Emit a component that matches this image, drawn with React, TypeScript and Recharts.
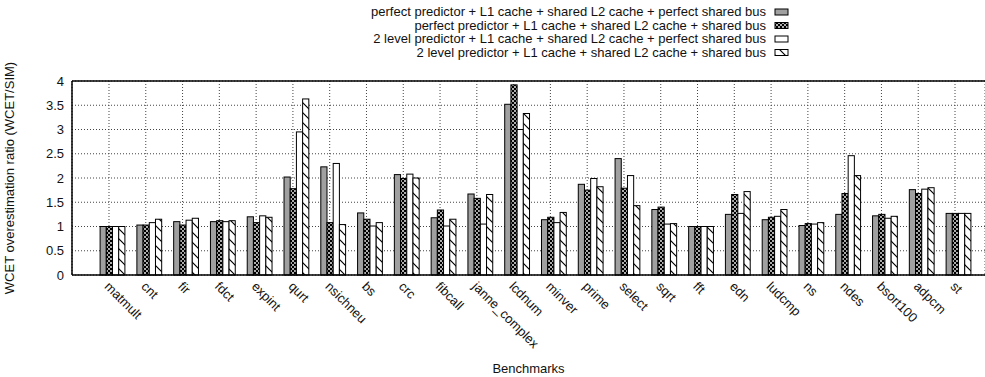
import { BarChart, Bar, XAxis, YAxis, CartesianGrid } from 'recharts'

const benchmarks = [
  'matmult', 'cnt', 'fir', 'fdct', 'expint', 'qurt', 'nsichneu', 'bs', 'crc', 'fibcall',
  'janne_complex', 'lcdnum', 'minver', 'prime', 'select', 'sqrt', 'fft', 'edn', 'ludcmp',
  'ns', 'ndes', 'bsort100', 'adpcm', 'st',
]

const perfectPredPerfectBus = [
  1.0, 1.03, 1.1, 1.1, 1.2, 2.02, 2.23, 1.28, 2.07, 1.18, 1.67, 3.52,
  1.14, 1.87, 2.4, 1.35, 1.0, 1.25, 1.14, 1.02, 1.25, 1.22, 1.76, 1.27,
]
const perfectPredSharedBus = [
  1.0, 1.03, 1.03, 1.12, 1.08, 1.78, 1.08, 1.15, 1.99, 1.34, 1.58, 3.92,
  1.19, 1.75, 1.79, 1.4, 1.0, 1.66, 1.19, 1.06, 1.68, 1.25, 1.68, 1.27,
]
const twoLevelPerfectBus = [
  1.0, 1.08, 1.13, 1.1, 1.22, 2.95, 2.3, 1.01, 2.08, 1.01, 1.05, 3.0,
  1.08, 1.99, 2.05, 1.05, 1.0, 1.27, 1.21, 1.05, 2.46, 1.17, 1.77, 1.27,
]
const twoLevelSharedBus = [
  1.0, 1.15, 1.17, 1.12, 1.19, 3.63, 1.04, 1.08, 2.0, 1.15, 1.66, 3.33,
  1.29, 1.82, 1.43, 1.06, 1.0, 1.72, 1.35, 1.08, 2.05, 1.21, 1.8, 1.27,
]

const seriesNames = [
  'perfect predictor + L1 cache + shared L2 cache + perfect shared bus',
  'perfect predictor + L1 cache + shared L2 cache + shared bus',
  '2 level predictor + L1 cache + shared L2 cache + perfect shared bus',
  '2 level predictor + L1 cache + shared L2 cache + shared bus',
]
const seriesFills = ['#a0a0a0', 'url(#checker)', '#ffffff', 'url(#hatch)']
const seriesKeys = ['s1', 's2', 's3', 's4']

const yTicks = [0, 0.5, 1, 1.5, 2, 2.5, 3, 3.5, 4]

const data = benchmarks.map((name, i) => ({
  name,
  s1: perfectPredPerfectBus[i],
  s2: perfectPredSharedBus[i],
  s3: twoLevelPerfectBus[i],
  s4: twoLevelSharedBus[i],
}))

const FONT = '"Liberation Sans", Arial, Helvetica, sans-serif'
const FS = 13
const BAR_SHIFT = 3.5

const XTick = ({ x, y, payload }: any) => (
  <g transform={`translate(${x - 2},${y + 1})`}>
    <text transform="rotate(45)" textAnchor="start" dy="0.35em" fontSize={FS} fontFamily={FONT} fill="#111">
      {payload.value}
    </text>
  </g>
)

const shiftedBar = (fill: string) => (p: any) => (
  <rect
    x={p.x + BAR_SHIFT}
    y={p.y}
    width={p.width}
    height={p.height}
    fill={fill}
    stroke="#000"
    strokeWidth={1}
  />
)

function Legend() {
  const textRight = 766
  const rows = [16, 29.5, 43, 56.5]
  return (
    <svg width={985} height={70} style={{ position: 'absolute', left: 0, top: 0, pointerEvents: 'none' }}>
      <defs>
        <pattern id="checker" patternUnits="userSpaceOnUse" width={4} height={4}>
          <rect width={4} height={4} fill="#000" />
          <circle cx={1} cy={1} r={0.9} fill="#fff" />
          <circle cx={3} cy={3} r={0.9} fill="#fff" />
        </pattern>
        <pattern id="hatch" patternUnits="userSpaceOnUse" width={10} height={10}>
          <rect width={10} height={10} fill="#fff" />
          <path d="M0,0 L10,10 M-1,9 L1,11 M9,-1 L11,1" stroke="#000" strokeWidth={1.2} />
        </pattern>
      </defs>
      {seriesNames.map((n, i) => (
        <g key={n}>
          <text x={textRight} y={rows[i]} textAnchor="end" fontSize={FS} fontFamily={FONT} fill="#111">
            {n}
          </text>
          <rect x={775} y={rows[i] - 7} width={13} height={6} fill={seriesFills[i]} stroke="#000" strokeWidth={1} />
        </g>
      ))}
    </svg>
  )
}

export default function App() {
  return (
    <div style={{ position: 'absolute', left: 0, top: 0, width: 985, height: 377 }}>
      <BarChart
        width={985}
        height={377}
        data={data}
        margin={{ top: 81, right: 0, bottom: 0, left: 0 }}
        barGap={0}
        barSize={6.2}
      >
        <CartesianGrid stroke="#444" strokeDasharray="1 2" />
        <XAxis
          xAxisId="top"
          orientation="top"
          dataKey="name"
          mirror
          tick={false}
          tickSize={5}
          tickLine={{ stroke: '#000' }}
          axisLine={{ stroke: '#000', strokeWidth: 1.5 }}
          padding={{ left: 18.6, right: 11.6 }}
        />
        <XAxis
          dataKey="name"
          interval={0}
          height={102}
          tickLine={false}
          tick={<XTick />}
          axisLine={{ stroke: '#000', strokeWidth: 1.5 }}
          padding={{ left: 18.6, right: 11.6 }}
          label={{ value: 'Benchmarks', position: 'insideBottom', offset: 4, fontSize: FS, fontFamily: FONT, fill: '#111' }}
        />
        <YAxis
          domain={[0, 4]}
          ticks={yTicks}
          width={72}
          tickLine={false}
          axisLine={{ stroke: '#000', strokeWidth: 1.5 }}
          tick={{ fontSize: FS, fontFamily: FONT, fill: '#111' }}
          tickMargin={2}
          label={{
            value: 'WCET overestimation ratio (WCET/SIM)',
            angle: -90,
            position: 'insideLeft',
            offset: 9,
            fontSize: FS,
            fontFamily: FONT,
            fill: '#111',
            style: { textAnchor: 'middle' },
          }}
        />
        {seriesKeys.map((k, i) => (
          <Bar
            key={k}
            dataKey={k}
            name={seriesNames[i]}
            fill={seriesFills[i]}
            stroke="#000"
            shape={shiftedBar(seriesFills[i])}
            isAnimationActive={false}
          />
        ))}
      </BarChart>
      <Legend />
    </div>
  )
}
